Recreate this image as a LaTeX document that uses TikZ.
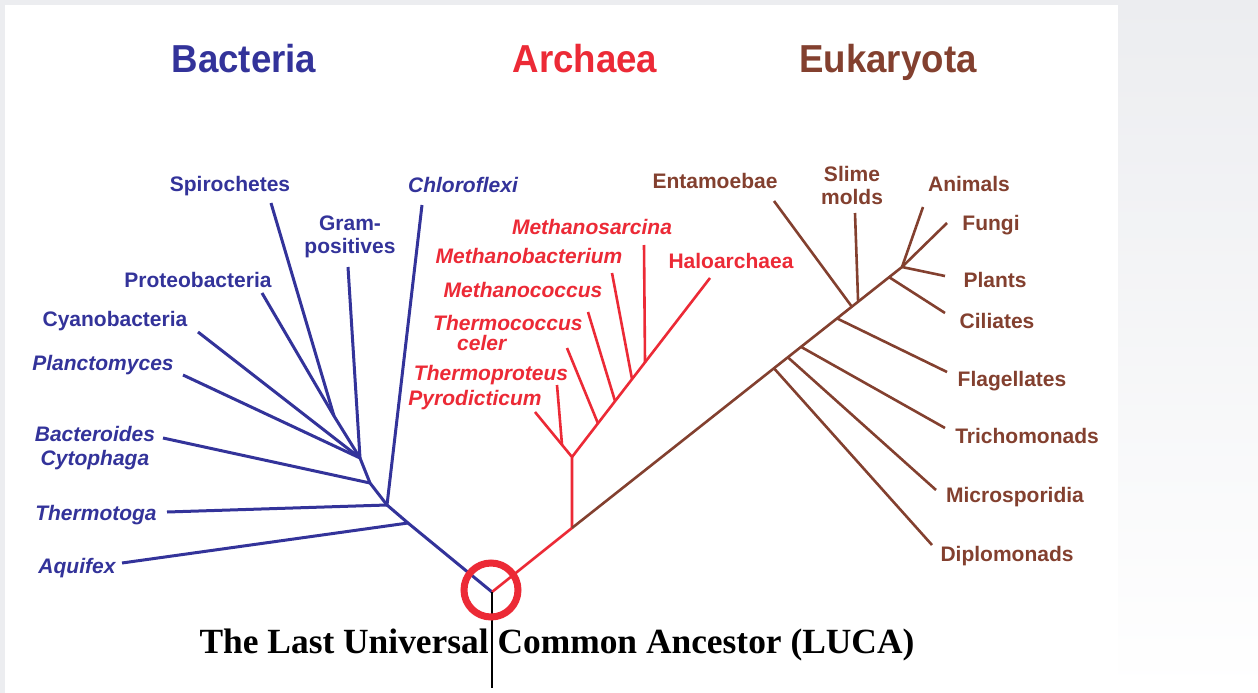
\documentclass[tikz,border=0pt]{standalone}
\usepackage{fontspec}
\setmainfont{Liberation Sans}
\newfontfamily\lucafont{Liberation Serif}
\usetikzlibrary{calc}
\definecolor{bact}{HTML}{33339A}
\definecolor{arch}{HTML}{EC2A36}
\definecolor{euk}{HTML}{83402F}
\definecolor{bgray}{HTML}{ECEDF0}
\begin{document}
\begin{tikzpicture}[x=1pt,y=-1pt,
  lab/.style={font=\fontsize{21}{22}\selectfont\bfseries, inner sep=0pt},
  labit/.style={font=\fontsize{21}{22}\selectfont\bfseries\itshape, inner sep=0pt},
  head/.style={font=\fontsize{39}{40}\selectfont\bfseries, inner sep=0pt, xscale=0.94, anchor=base},
  bline/.style={draw=bact, line width=3pt, line join=round},
  aline/.style={draw=arch, line width=2.6pt, line join=round},
  eline/.style={draw=euk, line width=2.6pt, line join=round}]
\useasboundingbox (0,0) rectangle (1258,693);
% background
\fill[white] (0,0) rectangle (1258,693);
\fill[bgray] (0,0) rectangle (1258,5);
\fill[bgray] (0,0) rectangle (5,693);
\shade[top color=bgray, bottom color=white] (1118,0) rectangle (1258,693);

% headings
\node[head, text=bact] (hB) at (244,73) {Bacteria};
\node[head, text=arch] (hA) at (585,73) {Archaea};
\node[head, text=euk] (hE) at (888,73) {Eukaryota};

% ---------- coordinates ----------
\coordinate (R) at (492,592);
\coordinate (Bot) at (492,688);
% bacteria
\coordinate (D) at (408,523);
\coordinate (C) at (387,505);
\coordinate (B) at (370,483);
\coordinate (A) at (360,458);
\coordinate (P) at (334,416);
\coordinate (tSpi) at (271,203);
\coordinate (tPro) at (262,293);
\coordinate (tGra) at (348,267);
\coordinate (tCya) at (198,332);
\coordinate (tPla) at (183,375);
\coordinate (tBac) at (163,438);
\coordinate (tThe) at (167,512);
\coordinate (tAqu) at (122,563);
\coordinate (tChl) at (422,205);
% archaea
\coordinate (E) at (572,528);
\coordinate (F) at (572,457);
\coordinate (tPyr) at (535,412);
\coordinate (G) at ($(tPyr)!0.73!(F)$);
\coordinate (tThp) at (557,385);
\coordinate (tHal) at (710,278);
\coordinate (tTcc) at (567,348);
\coordinate (tMcc) at (588,312);
\coordinate (tMba) at (612,273);
\coordinate (tMsa) at (644,245);
\coordinate (bTcc) at ($(F)!0.188!(tHal)$);
\coordinate (bMcc) at ($(F)!0.312!(tHal)$);
\coordinate (bMba) at ($(F)!0.435!(tHal)$);
\coordinate (bMsa) at ($(F)!0.529!(tHal)$);
% eukaryota
\coordinate (Q) at (902,267);
\coordinate (bDip) at ($(E)!0.612!(Q)$);
\coordinate (bMic) at ($(E)!0.654!(Q)$);
\coordinate (bTri) at ($(E)!0.694!(Q)$);
\coordinate (bFla) at ($(E)!0.803!(Q)$);
\coordinate (bEnt) at ($(E)!0.848!(Q)$);
\coordinate (bSli) at ($(E)!0.867!(Q)$);
\coordinate (bCil) at ($(E)!0.961!(Q)$);
\coordinate (tDip) at (932,545);
\coordinate (tMic) at (936,490);
\coordinate (tTri) at (945,428);
\coordinate (tFla) at (947,372);
\coordinate (tCil) at (945,313);
\coordinate (tPla2) at (945,276);
\coordinate (tFun) at (947,223);
\coordinate (tAni) at (923,207);
\coordinate (tEnt) at (774,201);
\coordinate (tSli) at (855,213);

% ---------- branches ----------
\draw[bline] (R) -- (D) -- (C) -- (B) -- (A) -- (P) -- (tPro);
\draw[bline] (P) -- (tSpi);
\draw[bline] (A) -- (tGra);
\draw[bline] (A) -- (tCya);
\draw[bline] (A) -- (tPla);
\draw[bline] (B) -- (tBac);
\draw[bline] (C) -- (tThe);
\draw[bline] (C) -- (tChl);
\draw[bline] (D) -- (tAqu);

\draw[aline] (R) -- (E) -- (F) -- (G) -- (tPyr);
\draw[aline] (G) -- (tThp);
\draw[aline] (F) -- (tHal);
\draw[aline] (bTcc) -- (tTcc);
\draw[aline] (bMcc) -- (tMcc);
\draw[aline] (bMba) -- (tMba);
\draw[aline] (bMsa) -- (tMsa);

\draw[eline] (E) -- (Q) -- (tAni);
\draw[eline] (Q) -- (tFun);
\draw[eline] (Q) -- (tPla2);
\draw[eline] (bCil) -- (tCil);
\draw[eline] (bSli) -- (tSli);
\draw[eline] (bEnt) -- (tEnt);
\draw[eline] (bFla) -- (tFla);
\draw[eline] (bTri) -- (tTri);
\draw[eline] (bMic) -- (tMic);
\draw[eline] (bDip) -- (tDip);

\draw[black, line width=2.4pt] (R) -- (Bot);
\node[draw=arch, line width=7pt, circle, minimum size=54pt, inner sep=0pt] (ring) at (491,590) {};

% ---------- labels ----------
\node[lab, text=bact, anchor=base] (lSpi) at (230,191) {Spirochetes};
\node[lab, text=bact, align=center, font=\fontsize{21}{23}\selectfont\bfseries] (lGra) at (350,237) {Gram-\\positives};
\node[labit, text=bact, anchor=base] (lChl) at (463,192) {Chloroflexi};
\node[lab, text=bact, anchor=base] (lPro) at (198,287) {Proteobacteria};
\node[lab, text=bact, anchor=base] (lCya) at (115,326) {Cyanobacteria};
\node[labit, text=bact, anchor=base] (lPla) at (103,370) {Planctomyces};
\node[labit, text=bact, align=center, font=\fontsize{21}{24}\selectfont\bfseries\itshape] (lBac) at (95,448) {Bacteroides\\Cytophaga};
\node[labit, text=bact, anchor=base] (lThe) at (96,520) {Thermotoga};
\node[labit, text=bact, anchor=base] (lAqu) at (77,573) {Aquifex};

\node[labit, text=arch, anchor=base] (lMsa) at (592,234) {Methanosarcina};
\node[labit, text=arch, anchor=base] (lMba) at (529,263) {Methanobacterium};
\node[lab, text=arch, anchor=base] (lHal) at (731,268) {Haloarchaea};
\node[labit, text=arch, anchor=base] (lMcc) at (523,297) {Methanococcus};
\node[labit, text=arch, align=left, anchor=west, font=\fontsize{21}{20}\selectfont\bfseries\itshape] (lTcc) at (433,333) {Thermococcus\\\hspace*{24pt}celer};
\node[labit, text=arch, anchor=base] (lThp) at (491,380) {Thermoproteus};
\node[labit, text=arch, anchor=base] (lPyr) at (475,405) {Pyrodicticum};

\node[lab, text=euk, anchor=base] (lEnt) at (715,188) {Entamoebae};
\node[lab, text=euk, align=center, font=\fontsize{21}{23}\selectfont\bfseries] (lSli) at (852,185) {Slime\\molds};
\node[lab, text=euk, anchor=base] (lAni) at (969,191) {Animals};
\node[lab, text=euk, anchor=base] (lFun) at (991,230) {Fungi};
\node[lab, text=euk, anchor=base] (lPla2) at (995,287) {Plants};
\node[lab, text=euk, anchor=base] (lCil) at (997,328) {Ciliates};
\node[lab, text=euk, anchor=base] (lFla) at (1012,386) {Flagellates};
\node[lab, text=euk, anchor=base] (lTri) at (1027,443) {Trichomonads};
\node[lab, text=euk, anchor=base] (lMic) at (1015,502) {Microsporidia};
\node[lab, text=euk, anchor=base] (lDip) at (1007,561) {Diplomonads};

\node[font=\lucafont\bfseries\fontsize{35.4}{40}\selectfont, anchor=base, inner sep=0pt] (luca) at (557,653) {The Last Universal Common Ancestor (LUCA)};
\end{tikzpicture}
\end{document}
